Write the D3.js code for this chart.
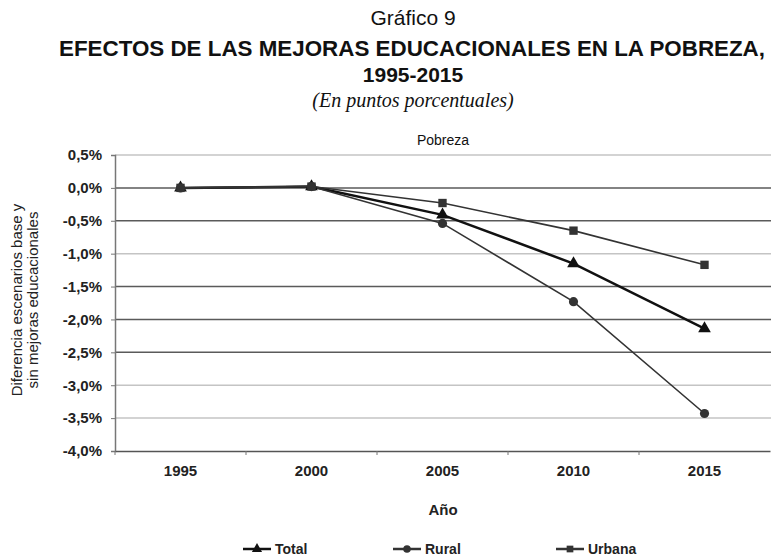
<!DOCTYPE html>
<html><head><meta charset="utf-8">
<script src="https://cdn.jsdelivr.net/npm/d3@7"></script>
<style>
body{margin:0;background:#fff;}
svg{display:block;font-family:"Liberation Sans",Arial,sans-serif;}
</style></head>
<body>
<svg id="c" width="771" height="559"></svg>
<script>
const years = ["1995","2000","2005","2010","2015"];
const total  = [0.00, 0.02, -0.41, -1.15, -2.14];
const rural  = [0.00, 0.02, -0.54, -1.73, -3.43];
const urbana = [0.00, 0.02, -0.23, -0.65, -1.17];
const seriesNames = ["Total","Rural","Urbana"];
const yTicks = [0.5,0.0,-0.5,-1.0,-1.5,-2.0,-2.5,-3.0,-3.5,-4.0];
const lightGrid = [0.5,-1.0,-3.0,-3.5];

(function(){
const svg = d3.select("#c");
const pL = 115, pR = 770, pT = 155, pB = 451;
const x = d3.scaleBand().domain(years).range([pL,pR]);
const y = d3.scaleLinear().domain([-4,0.5]).range([pB,pT]);
const fmt = v => (v===0?"0,0":d3.format(".1f")(v).replace(".",",").replace("−","-"))+"%";
const narrow = "'Liberation Sans Narrow','Arial Narrow','Liberation Sans',sans-serif";

// titles
svg.append("text").attr("x",413).attr("y",25).attr("text-anchor","middle")
  .attr("font-family",narrow).attr("font-size",21).attr("fill","#111").text("Gráfico 9");
svg.append("text").attr("x",412).attr("y",56).attr("text-anchor","middle")
  .attr("font-family",narrow).attr("font-size",22).attr("font-weight","bold").attr("fill","#111")
  .attr("textLength",706).attr("lengthAdjust","spacingAndGlyphs")
  .text("EFECTOS DE LAS MEJORAS EDUCACIONALES EN LA POBREZA,");
svg.append("text").attr("x",413).attr("y",82).attr("text-anchor","middle")
  .attr("font-family",narrow).attr("font-size",21).attr("font-weight","bold").attr("fill","#111").text("1995-2015");
svg.append("text").attr("x",413).attr("y",107).attr("text-anchor","middle")
  .attr("font-size",20).attr("font-style","italic").attr("fill","#111")
  .attr("font-family","'Liberation Serif','Times New Roman',serif").text("(En puntos porcentuales)");
svg.append("text").attr("x",443).attr("y",145).attr("text-anchor","middle")
  .attr("font-size",14).attr("fill","#111").text("Pobreza");

// gridlines
svg.append("g").selectAll("line").data(yTicks.filter(t=>t>-4)).join("line")
  .attr("x1",pL).attr("x2",771).attr("y1",d=>y(d)).attr("y2",d=>y(d))
  .attr("stroke",d=>lightGrid.includes(d)?"#c4c4c4":"#5a5a5a").attr("stroke-width",1.5);

// y axis
const yAxis = svg.append("g").attr("transform",`translate(${pL},0)`)
  .call(d3.axisLeft(y).tickValues(yTicks).tickFormat(fmt).tickSize(4).tickPadding(9));
yAxis.select(".domain").attr("stroke","#777").attr("stroke-width",1.5);
yAxis.selectAll(".tick line").attr("stroke","#777");
yAxis.selectAll("text").attr("font-size",15).attr("font-weight","bold").attr("fill","#222")
  .attr("font-family","'Liberation Sans',Arial,sans-serif");

// x axis
const xAxis = svg.append("g").attr("transform",`translate(0,${pB})`)
  .call(d3.axisBottom(x).tickSize(0).tickPadding(14));
xAxis.select(".domain").attr("stroke","#555").attr("stroke-width",1.5);
xAxis.selectAll("text").attr("font-size",15).attr("font-weight","bold").attr("fill","#222")
  .attr("font-family","'Liberation Sans',Arial,sans-serif");
svg.append("g").selectAll("line").data(years).join("line")
  .attr("x1",d=>x(d)).attr("x2",d=>x(d)).attr("y1",pB).attr("y2",pB+4)
  .attr("stroke","#777");

// axis titles
svg.append("text").attr("x",443).attr("y",515).attr("text-anchor","middle")
  .attr("font-size",15).attr("font-weight","bold").attr("fill","#222").text("Año");
const yt = svg.append("text").attr("transform","translate(0,300) rotate(-90)")
  .attr("text-anchor","middle").attr("font-size",15).attr("fill","#222");
yt.append("tspan").attr("x",0).attr("y",22).text("Diferencia escenarios base y");
yt.append("tspan").attr("x",0).attr("y",38).text("sin mejoras educacionales");

// series
const data = [
  {name:seriesNames[0], vals:total, shape:d3.symbolTriangle, w:2.5, col:"#111", sz:70},
  {name:seriesNames[1], vals:rural, shape:d3.symbolCircle, w:1.6, col:"#333", sz:66},
  {name:seriesNames[2], vals:urbana, shape:d3.symbolSquare, w:1.6, col:"#333", sz:70}
];
const cx = d => x(d)+x.bandwidth()/2;
const line = d3.line().x((v,i)=>cx(years[i])).y(v=>y(v));
data.forEach(s=>{
  svg.append("path").datum(s.vals).attr("d",line).attr("fill","none")
    .attr("stroke",s.col).attr("stroke-width",s.w);
});
data.forEach(s=>{
  svg.append("g").selectAll("path").data(s.vals).join("path")
    .attr("transform",(v,i)=>`translate(${cx(years[i])},${y(v)})`)
    .attr("d",d3.symbol().type(s.shape).size(s.sz))
    .attr("fill",s.col);
});

// legend
const lx = [243,393,556];
data.forEach((s,i)=>{
  const g = svg.append("g").attr("transform",`translate(${lx[i]},549)`);
  g.append("line").attr("x1",0).attr("x2",28).attr("y1",0).attr("y2",0)
    .attr("stroke",s.col).attr("stroke-width",2.5);
  g.append("path").attr("transform","translate(14,0)")
    .attr("d",d3.symbol().type(s.shape).size(45)).attr("fill",s.col);
  g.append("text").attr("x",32).attr("y",5).attr("font-size",14).attr("font-weight","bold")
    .attr("fill","#222").text(s.name);
});
})();
</script>
</body></html>
